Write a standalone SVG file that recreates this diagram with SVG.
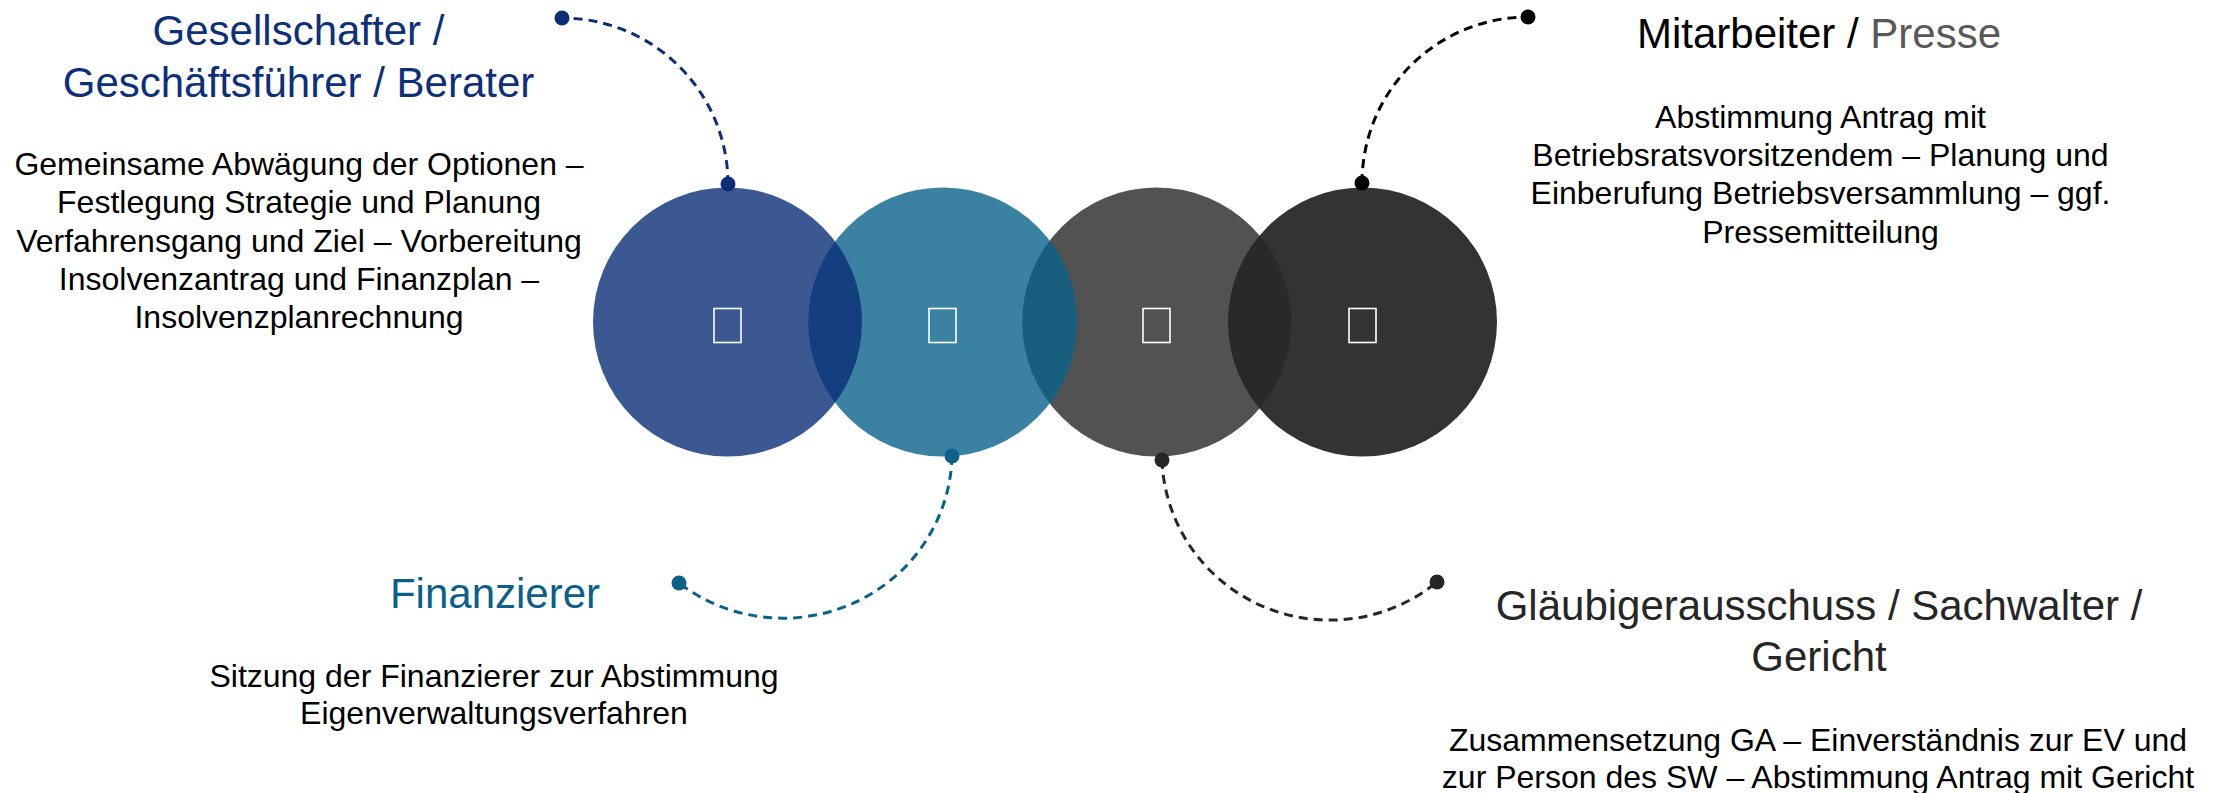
<svg xmlns="http://www.w3.org/2000/svg" width="2221" height="793" viewBox="0 0 2221 793">
<style>
text{font-family:"Liberation Sans",Arial,sans-serif;text-anchor:middle}
.t{font-size:42px}
.b{font-size:32px;fill:#000}
.c{fill-opacity:0.8}
.ic{fill:none;stroke:#fff;stroke-width:1.6}
.cn{fill:none;stroke-width:3;stroke-dasharray:9 6}
</style>
<rect width="2221" height="793" fill="#fff"/>
<g id="circles">
<g id="circle4"><circle class="c" cx="1362.5" cy="322" r="134.5" fill="#000000"/><rect class="ic" x="1349" y="308.5" width="27" height="34"/></g>
<g id="circle3"><circle class="c" cx="1156.7" cy="322" r="134.5" fill="#272727"/><rect class="ic" x="1143" y="308.5" width="27" height="34"/></g>
<g id="circle2"><circle class="c" cx="942.7" cy="322" r="134.5" fill="#0A6189"/><rect class="ic" x="929" y="308.5" width="27" height="34"/></g>
<g id="circle1"><circle class="c" cx="727.5" cy="322" r="134.5" fill="#0B2E77"/><rect class="ic" x="714" y="308.5" width="27" height="34"/></g>
</g>
<g id="connectors">
<path class="cn" stroke="#0B2E77" d="M728,184 A166,166 0 0 0 562,18"/>
<circle cx="728" cy="184" r="7.5" fill="#0B2E77"/><circle cx="562" cy="18" r="7.5" fill="#0B2E77"/>
<path class="cn" stroke="#000" d="M1362,183 A166,166 0 0 1 1528,17"/>
<circle cx="1362" cy="183" r="7.5" fill="#000"/><circle cx="1528" cy="17" r="7.5" fill="#000"/>
<path class="cn" stroke="#0A6189" d="M952,456 A169,166 0 0 1 679,583"/>
<circle cx="952" cy="456" r="7.5" fill="#0A6189"/><circle cx="679" cy="583" r="7.5" fill="#0A6189"/>
<path class="cn" stroke="#262626" d="M1162,460 A168,166 0 0 0 1437,582"/>
<circle cx="1162" cy="460" r="7.5" fill="#262626"/><circle cx="1437" cy="582" r="7.5" fill="#262626"/>
</g>
<g id="node-gesellschafter">
<text class="t" fill="#0E2F7A" x="298.5" y="45">Gesellschafter /</text>
<text class="t" fill="#0E2F7A" x="298.5" y="96.7">Geschäftsführer / Berater</text>
<text class="b" x="299" y="175">Gemeinsame Abwägung der Optionen –</text>
<text class="b" x="299" y="213.3">Festlegung Strategie und Planung</text>
<text class="b" x="299" y="251.7">Verfahrensgang und Ziel – Vorbereitung</text>
<text class="b" x="299" y="290">Insolvenzantrag und Finanzplan –</text>
<text class="b" x="299" y="328.3">Insolvenzplanrechnung</text>
</g>
<g id="node-mitarbeiter">
<text class="t" x="1819" y="48.3"><tspan fill="#000">Mitarbeiter / </tspan><tspan fill="#595959">Presse</tspan></text>
<text class="b" x="1820.5" y="127.7">Abstimmung Antrag mit</text>
<text class="b" x="1820.5" y="165.7">Betriebsratsvorsitzendem – Planung und</text>
<text class="b" x="1820.5" y="204">Einberufung Betriebsversammlung – ggf.</text>
<text class="b" x="1820.5" y="242.5">Pressemitteilung</text>
</g>
<g id="node-finanzierer">
<text class="t" fill="#0B5F8A" x="495" y="607.5">Finanzierer</text>
<text class="b" x="494" y="687">Sitzung der Finanzierer zur Abstimmung</text>
<text class="b" x="494" y="724">Eigenverwaltungsverfahren</text>
</g>
<g id="node-glaeubiger">
<text class="t" fill="#262626" x="1819" y="620">Gläubigerausschuss / Sachwalter /</text>
<text class="t" fill="#262626" x="1819" y="671">Gericht</text>
<text class="b" x="1818" y="751">Zusammensetzung GA – Einverständnis zur EV und</text>
<text class="b" x="1818" y="788">zur Person des SW – Abstimmung Antrag mit Gericht</text>
</g>
</svg>
